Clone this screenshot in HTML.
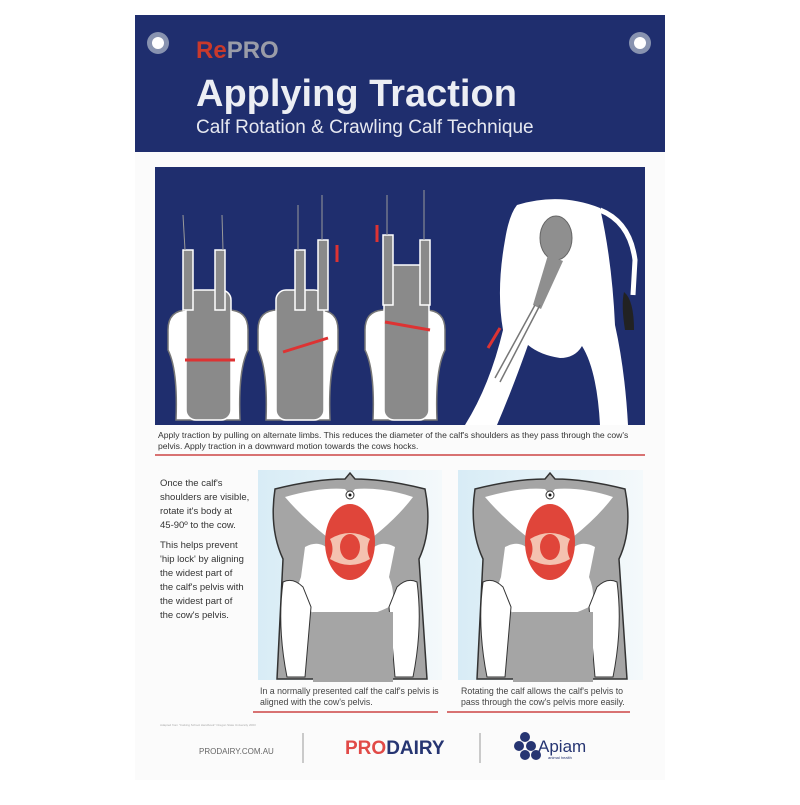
<!DOCTYPE html>
<html><head><style>
body{margin:0;background:#fff;width:800px;height:800px;overflow:hidden;font-family:"Liberation Sans",sans-serif}
</style></head><body>
<svg width="800" height="800" viewBox="0 0 800 800" xmlns="http://www.w3.org/2000/svg" font-family="Liberation Sans, sans-serif">
<defs>
<linearGradient id="g" x1="0" y1="0" x2="1" y2="0"><stop offset="0" stop-color="#d8ecf6"/><stop offset="1" stop-color="#f4f9fb"/></linearGradient>
<g id="pel">
<path d="M20 22 q40-10 70-10 l5-6 l5 6 q30 0 70 10 q8 40-6 70 l8 120 h-150 l6-120 q-14-30-8-70z" fill="#a5a5a5" stroke="#333" stroke-width="1.5"/>
<path d="M30 30 q35-10 60-8 l5 6 l5-6 q28-2 58 8 q-15 20-40 40 h-46 q-25-20-42-40z" fill="#fff"/>
<path d="M50 80 q15-8 25 4 h40 q10-12 25-4 l-6 30 q8 20 0 30 q-25 12-44 12 q-20 0-44-12 q-8-10 0-30z" fill="#fff"/>
<ellipse cx="95" cy="75" rx="25" ry="38" fill="#e0453a"/>
<path d="M75 72 q20-12 40 0 q-5 10 0 20 q-20 12-40 0 q5-10 0-20z" fill="#f4c2b0"/>
<ellipse cx="95" cy="80" rx="10" ry="13" fill="#e0453a"/>
<path d="M28 115 q10-5 20 5 l8 20 l-6 70 h-18 q-10-50-4-95z M162 115 q-10-5-20 5 l-8 20 l6 70 h18 q10-50 4-95z" fill="#fff" stroke="#333" stroke-width="1"/>
<rect x="58" y="145" width="80" height="70" fill="#a5a5a5"/>
<circle cx="95" cy="28" r="4" fill="#fff" stroke="#333"/><circle cx="95" cy="28" r="1.5" fill="#111"/>
</g>
</defs>
<rect x="135" y="15" width="530" height="765" fill="#fbfbfb"/>
<rect x="135" y="15" width="530" height="137" fill="#1f2e6e"/>
<circle cx="158" cy="43" r="11" fill="#8893b0"/><circle cx="158" cy="43" r="6" fill="#fff"/>
<circle cx="640" cy="43" r="11" fill="#8893b0"/><circle cx="640" cy="43" r="6" fill="#fff"/>
<text x="196" y="58" font-size="24" font-weight="bold" fill="#c8392b">Re<tspan fill="#9a9ca8">PRO</tspan></text>
<text x="196" y="106" font-size="38" font-weight="bold" fill="#eceef4">Applying Traction</text>
<text x="196" y="133" font-size="19" fill="#e6e8f0">Calf Rotation &amp; Crawling Calf Technique</text>
<rect x="155" y="167" width="490" height="258" fill="#1f2e6e"/>
<g fill="#8a8a8a" stroke="#fff" stroke-width="1.5">
<path d="M168 330 q0-20 20-20 h40 q20 0 20 20 v20 q-10 20-8 70 h-64 q2-50-8-70z" fill="#fff" stroke="#777"/>
<rect x="186" y="290" width="45" height="130" rx="10"/>
<rect x="183" y="250" width="10" height="60"/><rect x="215" y="250" width="10" height="60"/>
<path d="M258 330 q0-20 20-20 h40 q20 0 20 20 v20 q-10 20-8 70 h-64 q2-50-8-70z" fill="#fff" stroke="#777"/>
<rect x="276" y="290" width="48" height="130" rx="10"/>
<rect x="295" y="250" width="10" height="60"/><rect x="318" y="240" width="10" height="70"/>
<path d="M365 330 q0-20 20-20 h40 q20 0 20 20 v20 q-10 20-8 70 h-64 q2-50-8-70z" fill="#fff" stroke="#777"/>
<rect x="384" y="265" width="45" height="155" rx="10"/>
<rect x="383" y="235" width="10" height="70"/><rect x="420" y="240" width="10" height="65"/>
</g>
<g stroke="#999" stroke-width="1"><line x1="185" y1="250" x2="183" y2="215"/><line x1="223" y1="250" x2="222" y2="215"/><line x1="298" y1="250" x2="298" y2="205"/><line x1="322" y1="240" x2="322" y2="195"/><line x1="387" y1="235" x2="387" y2="195"/><line x1="424" y1="240" x2="424" y2="190"/></g>
<g stroke="#d33" stroke-width="3" fill="#d33">
<line x1="185" y1="360" x2="235" y2="360"/><line x1="283" y1="352" x2="328" y2="338"/><line x1="385" y1="322" x2="430" y2="330"/>
<line x1="337" y1="262" x2="337" y2="245"/><line x1="377" y1="242" x2="377" y2="225"/><line x1="500" y1="328" x2="488" y2="348"/>
</g>
<!-- cow -->
<path d="M517 205 Q560 192 600 208 Q612 260 615 325 Q625 370 628 425 H600 Q597 370 582 346 Q575 358 560 358 Q540 355 528 345 Q512 390 497 425 H465 Q490 385 503 330 Q496 290 505 240 Q509 215 517 205 Z" fill="#fff"/>
<path d="M600 210 Q630 222 635 260 L633 295" stroke="#fff" stroke-width="5" fill="none"/>
<path d="M624 292 q10 8 10 38 h-9 q-4-25-1-38z" fill="#222"/>
<ellipse cx="556" cy="238" rx="16" ry="22" fill="#8f8f8f" stroke="#666"/>
<path d="M548 255 l-15 50 l8 4 l22-48z" fill="#8f8f8f"/>
<g stroke="#777" stroke-width="1.5"><line x1="535" y1="305" x2="495" y2="378"/><line x1="540" y1="305" x2="500" y2="382"/></g>
<text font-size="8.6" fill="#333"><tspan x="158" y="438">Apply traction by pulling on alternate limbs. This reduces the diameter of the calf's shoulders as they pass through the cow's</tspan><tspan x="158" y="449">pelvis. Apply traction in a downward motion towards the cows hocks.</tspan></text>
<line x1="155" y1="455" x2="645" y2="455" stroke="#c44" stroke-width="1.5"/>
<text font-size="9.5" fill="#333"><tspan x="160" y="486">Once the calf's</tspan><tspan x="160" y="500">shoulders are visible,</tspan><tspan x="160" y="514">rotate it's body at</tspan><tspan x="160" y="528">45-90º to the cow.</tspan><tspan x="160" y="548">This helps prevent</tspan><tspan x="160" y="562">'hip lock' by aligning</tspan><tspan x="160" y="576">the widest part of</tspan><tspan x="160" y="590">the calf's pelvis with</tspan><tspan x="160" y="604">the widest part of</tspan><tspan x="160" y="618">the cow's pelvis.</tspan></text>
<rect x="258" y="470" width="184" height="210" fill="url(#g)"/>
<rect x="458" y="470" width="185" height="210" fill="url(#g)"/>
<use href="#pel" x="255" y="467"/>
<use href="#pel" x="455" y="467"/>
<text font-size="8.8" fill="#444"><tspan x="260" y="694">In a normally presented calf the calf's pelvis is</tspan><tspan x="260" y="705">aligned with the cow's pelvis.</tspan><tspan x="461" y="694">Rotating the calf allows the calf's pelvis to</tspan><tspan x="461" y="705">pass through the cow's pelvis more easily.</tspan></text>
<line x1="253" y1="712" x2="438" y2="712" stroke="#c44" stroke-width="1.5"/>
<line x1="447" y1="712" x2="630" y2="712" stroke="#c44" stroke-width="1.5"/>
<text x="160" y="726" font-size="3" fill="#aaa">Adapted from "Calving School Handbook" Oregon State University 2003</text>
<text x="199" y="754" font-size="8" fill="#666">PRODAIRY.COM.AU</text>
<line x1="303" y1="733" x2="303" y2="763" stroke="#999"/>
<line x1="480" y1="733" x2="480" y2="763" stroke="#999"/>
<text x="345" y="754" font-size="19" font-weight="bold" fill="#e14a47">PRO<tspan fill="#263572">DAIRY</tspan></text>
<g fill="#263572"><circle cx="525" cy="737" r="5"/><circle cx="519" cy="746" r="5"/><circle cx="531" cy="746" r="5"/><circle cx="525" cy="755" r="5"/><circle cx="536" cy="755" r="5"/></g>
<text x="538" y="752" font-size="17" fill="#263572">Apiam</text>
<text x="548" y="759" font-size="4" fill="#263572">animal health</text>
</svg>
</body></html>
